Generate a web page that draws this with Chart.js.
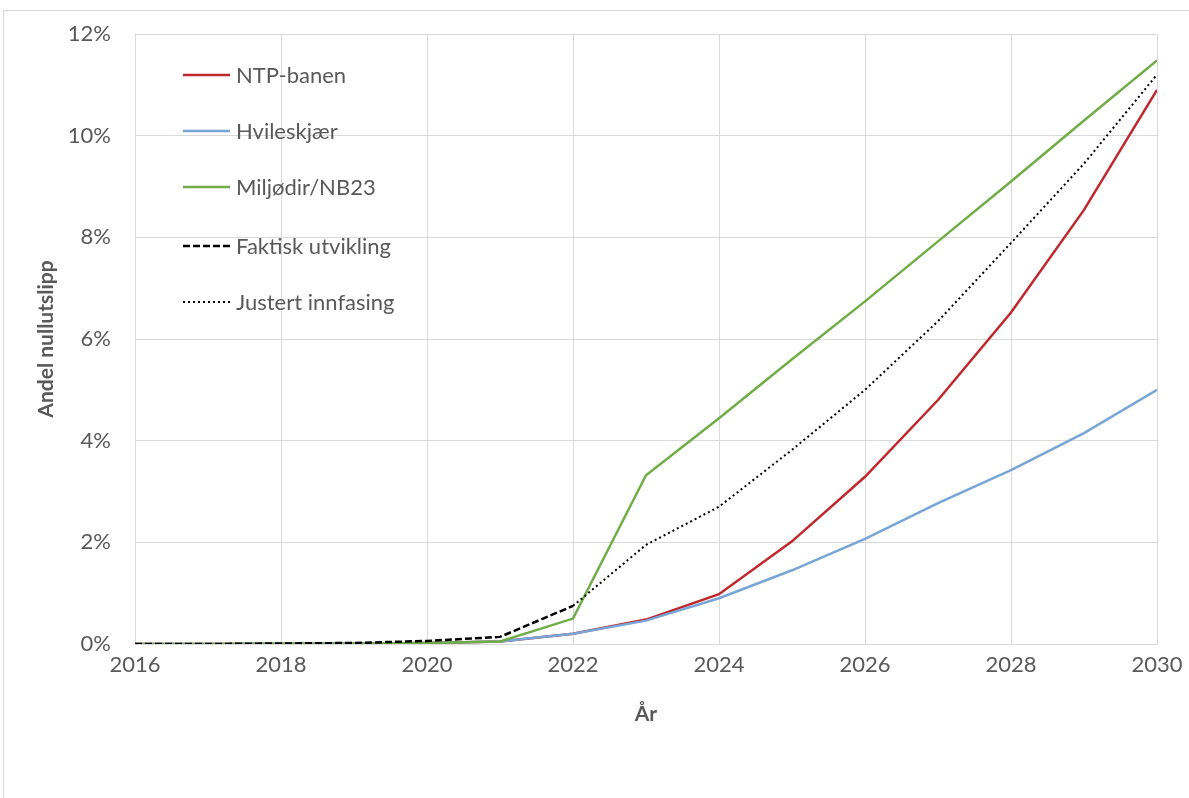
<!DOCTYPE html>
<html lang="no">
<head>
<meta charset="utf-8">
<title>Andel nullutslipp</title>
<script src="https://cdn.jsdelivr.net/npm/chart.js@4.4.1/dist/chart.umd.min.js"></script>
<style>
  html, body { margin: 0; padding: 0; background: #ffffff; }
  #wrap { width: 1189px; height: 798px; position: relative; }
</style>
</head>
<body>
<div id="wrap"><canvas id="chart" width="1189" height="798"></canvas></div>
<script>
// År og andel nullutslipp (%) per scenario
const years = [2016, 2017, 2018, 2019, 2020, 2021, 2022, 2023, 2024, 2025, 2026, 2027, 2028, 2029, 2030];
const ntpBanen   = [0, 0, 0.005, 0.01, 0.02, 0.05, 0.2, 0.48, 0.98, 2.02, 3.29, 4.8, 6.52, 8.54, 10.9];
const hvileskjaer = [0, 0, 0.005, 0.01, 0.02, 0.05, 0.2, 0.46, 0.9, 1.45, 2.07, 2.77, 3.42, 4.15, 5.0];
const miljodir   = [0, 0, 0.005, 0.01, 0.02, 0.05, 0.5, 3.32, 4.44, 5.6, 6.74, 7.92, 9.1, 10.3, 11.48];
const faktisk    = [0, 0, 0.01, 0.02, 0.06, 0.14, 0.75, null, null, null, null, null, null, null, null];
const justert    = [null, null, null, null, null, null, 0.75, 1.95, 2.7, 3.82, 5.0, 6.35, 7.89, 9.45, 11.2];
const yTicks = [0, 2, 4, 6, 8, 10, 12];

const FONT = 'Lato, "Open Sans", "Noto Sans", sans-serif';
const GREY_TEXT = '#595959';
const GRID = '#d9d9d9';

const toPoints = arr => years.map((y, i) => ({ x: y, y: arr[i] }));

const datasets = [
  { label: 'NTP-banen', data: toPoints(ntpBanen), borderColor: '#c0272d', borderWidth: 2.5, order: 5 },
  { label: 'Hvileskjær', data: toPoints(hvileskjaer), borderColor: '#76a5d6', borderWidth: 2.5, order: 4 },
  { label: 'Miljødir/NB23', data: toPoints(miljodir), borderColor: '#70ad47', borderWidth: 2.5, order: 3 },
  { label: 'Faktisk utvikling', data: toPoints(faktisk), borderColor: '#000000', borderWidth: 2.5, borderDash: [7, 3], order: 2 },
  { label: 'Justert innfasing', data: toPoints(justert), borderColor: '#000000', borderWidth: 2, borderDash: [2, 3], order: 1 }
].map(d => Object.assign({ pointRadius: 0, pointHoverRadius: 0, fill: false, tension: 0, spanGaps: false }, d));

// Ytre ramme rundt diagramområdet
const framePlugin = {
  id: 'frame',
  beforeDraw(chart) {
    const ctx = chart.ctx;
    ctx.save();
    ctx.fillStyle = '#ffffff';
    ctx.fillRect(0, 0, chart.width, chart.height);
    ctx.strokeStyle = '#d9d9d9';
    ctx.lineWidth = 1;
    ctx.strokeRect(3.5, 10.5, chart.width + 10, chart.height + 10);
    ctx.restore();
  }
};

// Forklaring tegnet inne i plottområdet, oppe til venstre
const insideLegend = {
  id: 'insideLegend',
  afterDatasetsDraw(chart) {
    const ctx = chart.ctx;
    const rows = [75, 131, 187, 246, 302];
    ctx.save();
    ctx.font = '22px ' + FONT;
    ctx.textBaseline = 'middle';
    ctx.textAlign = 'left';
    chart.data.datasets.forEach((ds, i) => {
      const y = rows[i];
      ctx.strokeStyle = ds.borderColor;
      ctx.lineWidth = ds.borderWidth;
      ctx.setLineDash(ds.borderDash || []);
      ctx.beginPath();
      ctx.moveTo(183, y);
      ctx.lineTo(230, y);
      ctx.stroke();
      ctx.setLineDash([]);
      ctx.fillStyle = GREY_TEXT;
      ctx.fillText(ds.label, 236, y + 1);
    });
    ctx.restore();
  }
};

function noEdgePadding(scale) {
  scale.paddingTop = 0;
  scale.paddingBottom = 0;
  scale.paddingLeft = 0;
  scale.paddingRight = 0;
}

new Chart(document.getElementById('chart'), {
  type: 'line',
  data: { datasets },
  plugins: [framePlugin, insideLegend],
  options: {
    responsive: false,
    animation: false,
    events: [],
    layout: { padding: { left: 30, right: 32, top: 34, bottom: 64 } },
    plugins: {
      legend: { display: false },
      tooltip: { enabled: false },
      title: { display: false }
    },
    scales: {
      x: {
        type: 'linear',
        min: years[0],
        max: years[years.length - 1],
        afterBuildTicks(scale) {
          scale.ticks = years.filter(y => y % 2 === 0).map(v => ({ value: v }));
        },
        afterFit(scale) { scale.height = 90; noEdgePadding(scale); },
        grid: { color: GRID, lineWidth: 1, drawTicks: false },
        border: { display: true, color: GRID },
        ticks: {
          color: GREY_TEXT,
          font: { family: FONT, size: 22 },
          padding: 8,
          maxRotation: 0,
          autoSkip: false,
          callback: v => String(v)
        },
        title: {
          display: true,
          text: 'År',
          color: GREY_TEXT,
          font: { family: FONT, size: 21, weight: 'bold' },
          padding: { top: 0, bottom: 7 }
        }
      },
      y: {
        min: 0,
        max: 12,
        afterBuildTicks(scale) {
          scale.ticks = yTicks.map(v => ({ value: v }));
        },
        afterFit(scale) { scale.width = 105; noEdgePadding(scale); },
        grid: { color: GRID, lineWidth: 1, drawTicks: false },
        border: { display: false },
        ticks: {
          color: GREY_TEXT,
          font: { family: FONT, size: 22 },
          padding: 24,
          callback: v => v + '%'
        },
        title: {
          display: true,
          text: 'Andel nullutslipp',
          color: GREY_TEXT,
          font: { family: FONT, size: 21, weight: 'bold' },
          padding: { top: 4, bottom: 0 }
        }
      }
    }
  }
});
</script>
</body>
</html>
